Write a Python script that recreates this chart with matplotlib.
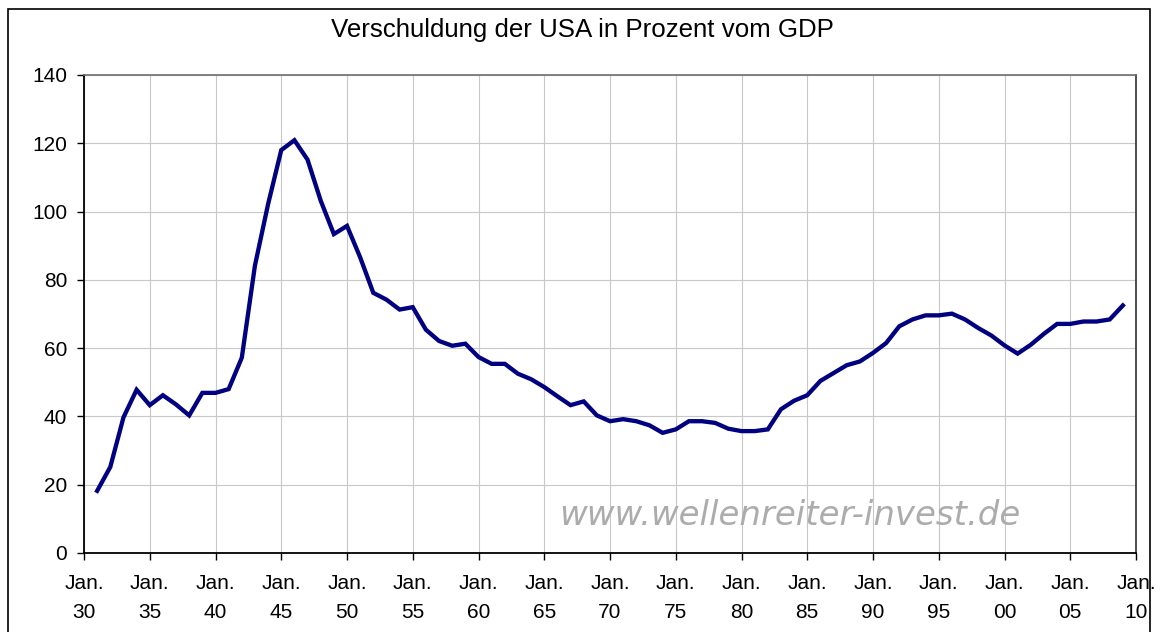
import matplotlib
matplotlib.use("Agg")
import matplotlib.pyplot as plt
from matplotlib.patches import Rectangle

plt.rcParams['font.family'] = ['Liberation Sans', 'DejaVu Sans']

# Verschuldung der USA in % vom GDP, jaehrlich 1931-2009
years = list(range(1931, 2010))
debt = [18.2, 25.2, 39.7, 47.8, 43.3, 46.2, 43.5, 40.3, 46.9, 46.9,
        48.0, 57.2, 84.2, 102.2, 118.0, 120.9, 115.2, 103.2, 93.4, 95.8,
        86.6, 76.2, 74.2, 71.3, 72.0, 65.4, 62.1, 60.7, 61.3, 57.4,
        55.4, 55.4, 52.5, 50.9, 48.6, 45.9, 43.3, 44.4, 40.3, 38.6,
        39.2, 38.6, 37.4, 35.2, 36.2, 38.6, 38.6, 38.1, 36.4, 35.7,
        35.7, 36.2, 42.1, 44.6, 46.2, 50.4, 52.7, 55.0, 56.1, 58.6,
        61.5, 66.4, 68.4, 69.6, 69.6, 70.1, 68.4, 65.9, 63.7, 60.8,
        58.4, 61.0, 64.2, 67.1, 67.1, 67.8, 67.8, 68.4, 72.5]

tick_years = list(range(1930, 2011, 5))
tick_labels = ["Jan.\n%02d" % (y % 100) for y in tick_years]
y_ticks = list(range(0, 141, 20))

fig = plt.figure(figsize=(11.61, 6.32), dpi=100)
ax = fig.add_axes([84 / 1161, 79 / 632, 1052 / 1161, 478 / 632])

ax.plot(years, debt, color='#000080', lw=3.1, solid_joinstyle='miter', zorder=3)

ax.set_xlim(1930, 2010)
ax.set_ylim(0, 140)
ax.set_xticks(tick_years)
ax.set_xticklabels(tick_labels, fontsize=15, linespacing=1.65)
ax.set_yticks(y_ticks)
ax.tick_params(axis='y', labelsize=15, length=5, width=1, direction='out', pad=7)
ax.tick_params(axis='x', length=5, width=1, direction='out', pad=10)
ax.grid(True, color='#c8c8c8', lw=0.8, zorder=0)
ax.set_axisbelow(True)

for s in ['left', 'bottom']:
    ax.spines[s].set_color('black')
    ax.spines[s].set_linewidth(1.3)
ax.spines['top'].set_color('#707070')
ax.spines['top'].set_linewidth(1.2)
ax.spines['right'].set_color('#303030')
ax.spines['right'].set_linewidth(1.2)

ax.text(0.671, 0.078, "www.wellenreiter-invest.de", transform=ax.transAxes,
        ha='center', va='center', fontsize=24.5, style='italic',
        family='DejaVu Sans', color='#acacac', zorder=2)

fig.text(582 / 1161, 1 - 30 / 632, "Verschuldung der USA in Prozent vom GDP",
         ha='center', va='center', fontsize=18.6)

# Rahmen um die ganze Grafik
fig.patches.append(Rectangle((8 / 1161, -0.05), 1142 / 1161, 1.05 - 9 / 632,
                             transform=fig.transFigure, fill=False,
                             edgecolor='black', lw=1.2))

fig.savefig("out.png", dpi=100)
